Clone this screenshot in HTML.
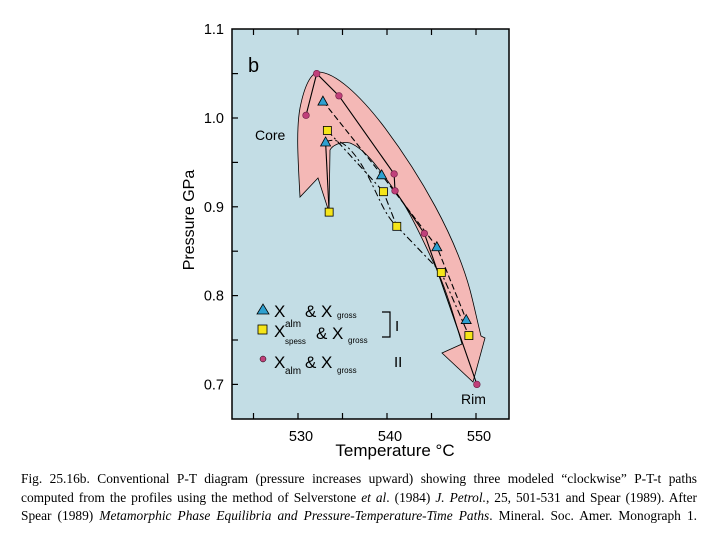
<!DOCTYPE html>
<html><head><meta charset="utf-8"><style>
body{margin:0;width:720px;height:540px;background:#fff;overflow:hidden}
svg{position:absolute;left:0;top:0}
.cap{position:absolute;left:21px;top:470px;width:676px;font-family:"Liberation Serif",serif;font-size:13.4px;line-height:18.5px;color:#000}
.cap div{white-space:nowrap;text-align:justify;text-align-last:justify}
</style></head><body>
<svg width="720" height="470" font-family="Liberation Sans, sans-serif">
<rect x="232" y="29" width="277" height="390" fill="#c3dde5" stroke="#000" stroke-width="1.5"/>
<g id="ticks"></g>
<path fill="#f4b8b6" stroke="#000" stroke-width="0.8"
 d="M300,197 C298,160 296,130 300,108 C304,88 310,74 318,72 C335,72 360,95 385,128 C420,175 455,235 470,290 C474,305 477,320 481,336 L485,338 L473,382 L442,353 L462,344 C455,320 448,295 438,272 C425,245 412,215 398,195 C385,178 368,150 350,143 C340,141 332,146 330,150 L329,212 L318,178 Z"/>
<g id="lines"></g>
<g id="marks"></g>
<text x="248" y="72" font-size="20">b</text>
<text x="255" y="140" font-size="14">Core</text>
<text x="461" y="404" font-size="14">Rim</text>
<g font-size="17">
<polygon points="257,314 263,304 269,314" fill="#2ea0d0" stroke="#000" stroke-width="0.8"/>
<text x="274" y="317">X</text><text x="285" y="327" font-size="10">alm</text><text x="305" y="317">&amp; X</text><text x="337" y="318" font-size="8">gross</text>
<rect x="258" y="325" width="9" height="9" fill="#f5e51a" stroke="#000" stroke-width="0.8"/>
<text x="274" y="337">X</text><text x="285" y="344" font-size="8">spess</text><text x="316" y="339">&amp; X</text><text x="348" y="343" font-size="8">gross</text>
<circle cx="263" cy="359" r="3" fill="#c0407a" stroke="#000" stroke-width="0.5"/>
<text x="274" y="368">X</text><text x="285" y="374" font-size="10">alm</text><text x="305" y="368">&amp; X</text><text x="337" y="373" font-size="8">gross</text>
<path d="M382,312 L390,312 L390,337 L382,337" fill="none" stroke="#000" stroke-width="1.2"/>
<text x="395" y="331" font-size="15">I</text><text x="394" y="367" font-size="15">II</text>
</g>
<g id="labels" font-size="14.5"></g>
<text x="395" y="456" font-size="17" text-anchor="middle">Temperature   °C</text>
<text transform="translate(194,220) rotate(-90)" font-size="16" text-anchor="middle">Pressure GPa</text>
</svg>
<div class="cap">
<div>Fig. 25.16b. Conventional P-T diagram (pressure increases upward) showing three modeled “clockwise” P-T-t paths</div>
<div>computed from the profiles using the method of Selverstone <i>et al</i>. (1984) <i>J. Petrol.</i>, 25, 501-531 and Spear (1989). After</div>
<div>Spear (1989) <i>Metamorphic Phase Equilibria and Pressure-Temperature-Time Paths</i>. Mineral. Soc. Amer. Monograph 1.</div>
</div>
<script>
const xTicks=[525,530,535,540,545,550];
const xLabels=[530,540,550];
const yTicks=[0.7,0.75,0.8,0.85,0.9,0.95,1.0,1.05];
const yLabels=[0.7,0.8,0.9,1.0,1.1];
const circT=[530.9,532.1,534.6,540.8,540.9,544.2,550.1];
const circP=[1.003,1.050,1.025,0.937,0.918,0.870,0.700];
const triT=[532.8,533.1,539.4,545.6,548.9];
const triP=[1.019,0.973,0.936,0.855,0.773];
const sqT=[533.3,533.5,539.6,541.1,546.1,549.2];
const sqP=[0.986,0.894,0.917,0.878,0.826,0.755];
const X=t=>298+(t-530)*8.9;
const Y=p=>118-(p-1.0)*888;
const NS='http://www.w3.org/2000/svg';
function mk(tag,parent,attrs){const e=document.createElementNS(NS,tag);for(const k in attrs)e.setAttribute(k,attrs[k]);document.getElementById(parent).appendChild(e);return e;}
xTicks.forEach(t=>{
 const a=mk('line','ticks',{x1:X(t),x2:X(t),y1:29,y2:35,stroke:'#000','stroke-width':1.2});
 
 
 const b=mk('line','ticks',{x1:X(t),x2:X(t),y1:413,y2:419,stroke:'#000','stroke-width':1.2});
 
 
});
yTicks.forEach(p=>{
 const a=mk('line','ticks',{x1:232,x2:238,y1:Y(p),y2:Y(p),stroke:'#000','stroke-width':1.2});
 
 
});
xLabels.forEach(t=>{
 const e=mk('text','labels',{x:X(t)+3,y:441,'text-anchor':'middle'});
 e.textContent=t;
 
 
});
yLabels.forEach(p=>{
 const e=mk('text','labels',{x:224,y:Y(p)+5,'text-anchor':'end'});e.textContent=p.toFixed(1);
 
 
});
function line(T,P,dash,name){
 const d=T.map((t,i)=>(i?'L':'M')+X(t)+','+Y(P[i])).join(' ');
 const e=mk('path','lines',{d:d,fill:'none',stroke:'#000','stroke-width':1.1,'stroke-dasharray':dash});
 
 
}
line(circT,circP,'none','path-ii-line');
line([triT[0]].concat(triT.slice(2)),[triP[0]].concat(triP.slice(2)),'6,3','path-i-alm-line');
line([sqT[0]].concat(sqT.slice(2)),[sqP[0]].concat(sqP.slice(2)),'7,3,2,3','path-i-spess-line');
line([sqT[1],triT[1]],[sqP[1],triP[1]],'none','core-connector');
{const e=mk('path','lines',{d:`M${X(triT[1])},${Y(triP[1])} C340,135 355,150 370,180 C380,200 385,215 ${X(sqT[3])},${Y(sqP[3])}`,fill:'none',stroke:'#000','stroke-width':1,'stroke-dasharray':'7,3,2,3'});
 
 }
circT.forEach((t,i)=>{
 const e=mk('circle','marks',{cx:X(t),cy:Y(circP[i]),r:3.3,fill:'#c0407a',stroke:'#6a1a40','stroke-width':0.6});
 
 
});
triT.forEach((t,i)=>{
 const x=X(t),y=Y(triP[i]);
 const e=mk('polygon','marks',{points:`${x-5},${y+4} ${x},${y-5} ${x+5},${y+4}`,fill:'#2ea0d0',stroke:'#000','stroke-width':0.8});
 
 
});
sqT.forEach((t,i)=>{
 const e=mk('rect','marks',{x:X(t)-4,y:Y(sqP[i])-4,width:8,height:8,fill:'#f5e51a',stroke:'#000','stroke-width':0.8});
 
 
});
</script>
</body></html>
